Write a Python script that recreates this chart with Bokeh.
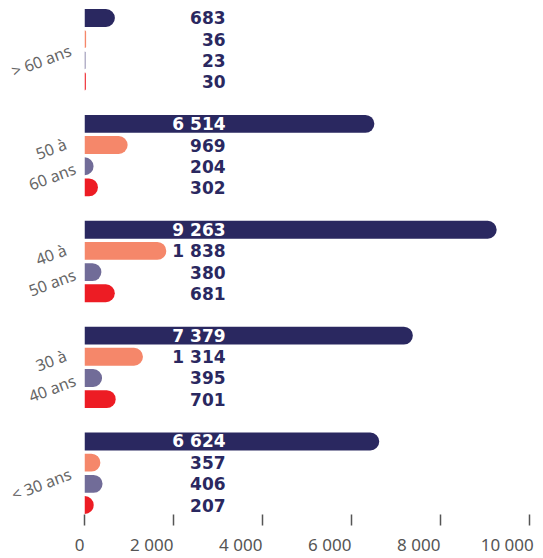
from bokeh.plotting import figure
from bokeh.models import ColumnDataSource, FactorRange, FixedTicker
from bokeh.transform import dodge
from bokeh.embed import file_html
from bokeh.resources import INLINE
from bokeh.core.properties import value

# groups, listed top to bottom
groups = ["> 60 ans", "50 à\n60 ans", "40 à\n50 ans", "30 à\n40 ans", "< 30 ans"]
series_a = [683, 6514, 9263, 7379, 6624]   # dark navy
series_b = [36, 969, 1838, 1314, 357]      # orange
series_c = [23, 204, 380, 395, 406]        # purple-grey
series_d = [30, 302, 681, 701, 207]        # red
x_ticks = [0, 2000, 4000, 6000, 8000, 10000]
x_tick_labels = ["0", "2 000", "4 000", "6 000", "8 000", "10 000"]

series = [series_a, series_b, series_c, series_d]
colors = ["#2a2860", "#f5876a", "#716c98", "#ed1c24"]
offsets = [0.3, 0.1, -0.1, -0.3]
LABEL_X = 3170

p = figure(
    width=543, height=558,
    y_range=FactorRange(factors=groups[::-1], range_padding=-0.0442),
    x_range=(0, 10315),
    output_backend="svg", toolbar_location=None,
    min_border_left=84, min_border_right=0, min_border_top=8, min_border_bottom=41,
)

for vals, col, off in zip(series, colors, offsets):
    labels = [f"{v:,}".replace(",", " ") for v in vals]
    tcol = ["#ffffff" if v > LABEL_X else "#2a2860" for v in vals]
    src = ColumnDataSource(dict(group=groups, value=vals, label=labels, tcol=tcol))
    p.hbar(y=dodge("group", off, range=p.y_range), left=0, right="value",
           height=0.169, source=src, fill_color=col, line_color=None,
           border_radius=(0, 9, 9, 0))
    p.text(x=LABEL_X, y=dodge("group", off, range=p.y_range), text="label",
           source=src, text_align="right", text_baseline="middle",
           text_color="tcol", text_font=value("DejaVu Sans"),
           text_font_style="bold", text_font_size="17px")

p.xgrid.visible = False
p.ygrid.visible = False
p.outline_line_color = None


def right_aligned(s, last=False):
    # pad with invisible figure/punctuation spaces so the visible text ends at the tick;
    # the last label is pushed against the canvas edge, so it needs only a little padding
    if last:
        return s + "\u2007"
    return s + "".join("\u2008" if ch == " " else "\u2007" for ch in s)


xa = p.xaxis[0]
xa.ticker = FixedTicker(ticks=x_ticks)
xa.major_label_overrides = {
    t: right_aligned(l, i == len(x_ticks) - 1)
    for i, (t, l) in enumerate(zip(x_ticks, x_tick_labels))
}
xa.axis_line_color = None
xa.major_tick_in = 0
xa.major_tick_out = 11
xa.major_tick_line_color = "#555555"
xa.major_tick_line_width = 1.5
xa.minor_tick_line_color = None
xa.major_label_text_font = "Noto Sans"
xa.major_label_text_font_size = "17px"
xa.major_label_text_color = "#555555"
xa.major_label_standoff = 7

ya = p.yaxis[0]
ya.axis_line_color = None
ya.major_tick_line_color = None
ya.minor_tick_line_color = None
ya.major_label_orientation = 0.36
ya.major_label_text_font = "Noto Sans"
ya.major_label_text_font_size = "16px"
ya.major_label_text_color = "#666666"
ya.major_label_standoff = 8
# two-line group labels sit a little higher in the reference
ya.major_label_overrides = {g: g + "\n" for g in groups if "\n" in g}

open("out.html", "w").write(file_html(p, INLINE))
